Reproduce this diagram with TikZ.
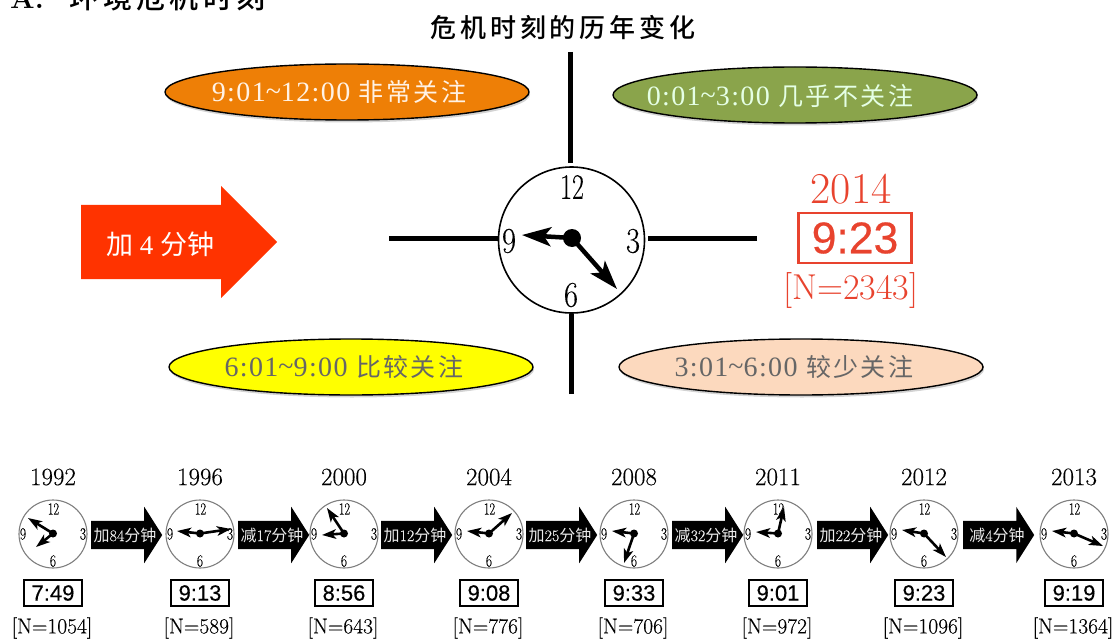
\documentclass[tikz,border=0pt]{standalone}
\usepackage{fontspec}
\usetikzlibrary{shapes.geometric,shapes.arrows,arrows.meta,shadows}
\newfontfamily\cn{Noto Sans CJK SC}
\newfontfamily\cnsp[LetterSpace=10]{Noto Sans CJK SC}
\newfontfamily\cnbold[LetterSpace=15]{Noto Sans CJK SC Medium}
\newfontfamily\lib[LetterSpace=5]{Liberation Serif}
\newfontfamily\libplain{Liberation Serif}
\newfontfamily\arial[FakeBold=0.4]{Liberation Sans}
\newfontfamily\lmheavy[FakeBold=0.25]{Latin Modern Roman}
\newcommand{\fs}[1]{\fontsize{#1}{#1}\selectfont}
\newcommand{\cond}[2]{\scalebox{#1}[1]{#2}}
\definecolor{redtxt}{HTML}{E8432E}
\definecolor{clockgray}{HTML}{7F7F7F}
\tikzset{
  oval/.style={ellipse,draw=black,line width=1.4pt,minimum width=364pt,minimum height=56pt,inner sep=0pt,
    drop shadow={shadow xshift=1pt,shadow yshift=-2.5pt,opacity=.35}},
  ovaltext/.style={font=\lib\fs{28}},
  crossline/.style={line width=5pt,black},
  bigface/.style={circle,draw=black,line width=1.6pt,fill=white,minimum size=146pt,inner sep=0pt},
  bighand/.style={line width=4.5pt,-{Stealth[length=29pt,width=19pt,inset=7pt]}},
  bignum/.style={font=\lmheavy\fs{36},inner sep=0pt},
  face/.style={circle,draw=clockgray,line width=1.1pt,fill=white,minimum size=68pt,inner sep=0pt},
  hub/.style={circle,fill=black,minimum size=#1,inner sep=0pt},
  hand/.style={line width=2.6pt,-{Stealth[length=14pt,width=9.5pt,inset=3.5pt]}},
  facenum/.style={font=\lmheavy\fs{17},inner sep=0pt},
  yearlabel/.style={font=\lmheavy\fs{25},inner sep=0pt},
  nlabel/.style={font=\lmheavy\fs{21.5},inner sep=0pt},
  timebox/.style={draw=black,line width=1.4pt,font=\arial\fs{22},minimum width=58pt,minimum height=26pt,inner sep=0pt},
  steparrow/.style={single arrow,fill=black,single arrow tip angle=115,single arrow head extend=14pt,
    single arrow head indent=0pt,minimum width=56pt,minimum height=71pt,inner sep=0pt,anchor=tail},
  steptext/.style={text=white!92!black,font=\lmheavy\fs{16},inner sep=0pt},
}
% \miniclock{name}{x}{year}{time}{N}{tip1}{tip2}
\newcommand{\miniclock}[7]{%
  \node[face] (#1) at (#2,534) {};
  \node[facenum] (#1n12) at (#2+0.5,509) {\cond{.72}{12}};
  \node[facenum] (#1n3) at (#2+30,534) {\cond{.8}{3}};
  \node[facenum] (#1n6) at (#2,561) {\cond{.8}{6}};
  \node[facenum] (#1n9) at (#2-30,534) {\cond{.8}{9}};
  \node[hub=8pt] (#1hub) at (#2,533.5) {};
  \coordinate (#1a) at (#6);
  \coordinate (#1b) at (#7);
  \draw[hand] (#1hub.center) -- (#1a);
  \draw[hand] (#1hub.center) -- (#1b);
  \node[yearlabel] (#1y) at (#2,477) {#3};
  \node[timebox] (#1t) at (#2,593) {#4};
  \node[nlabel] (#1c) at (#2-1,628) {[N=#5]};
}
% \stepto{name}{x}{text}
\newcommand{\stepto}[3]{%
  \node[steparrow] (#1) at (#2,535) {\rule{0pt}{28pt}};
  \node[steptext] (#1l) at (#2+34,535) {#3};
}
\begin{document}
\begin{tikzpicture}[x=1pt,y=-1pt]
\useasboundingbox (0,0) rectangle (1115,639);
\clip (0,0) rectangle (1115,639);
\node[anchor=base west,inner sep=0pt,font=\fs{29}] (heading) at (10,9) {\textbf{A.}\hspace{26pt}\cnbold 环境危机时刻};
\node[inner sep=0pt,font=\cnbold\fs{26}] (title) at (563,28) {危机时刻的历年变化};

\coordinate (ctop) at (570,52);
\coordinate (cbottom) at (571,394);
\coordinate (cleft) at (389,238);
\coordinate (cright) at (757,238);
\node[bigface] (bigclock) at (571.5,240) {};
\draw[crossline] (ctop) -- (570,163);
\draw[crossline] (cbottom) -- (571,314);
\draw[crossline] (cleft) -- (498,238);
\draw[crossline] (cright) -- (648,238);

\node[bignum] (n12) at (572,187) {\cond{.72}{12}};
\node[bignum] (n3) at (633,241) {\cond{.85}{3}};
\node[bignum] (n6) at (571,295) {\cond{.85}{6}};
\node[bignum] (n9) at (509,241) {\cond{.85}{9}};
\node[hub=18pt] (bighub) at (572,238) {};
\coordinate (bigtipa) at (522,235);
\coordinate (bigtipb) at (617,289);
\draw[bighand] (bighub.center) -- (bigtipa);
\draw[bighand] (bighub.center) -- (bigtipb);

\node[oval,fill={rgb,255:red,238;green,127;blue,6}] (o1) at (347,92) {};
\node[ovaltext,text=white!90!orange] (o1l) at (339,92) {9:01\raisebox{1pt}{\textasciitilde}12:00 {\cnsp\fs{25}非常关注}};
\node[oval,fill={rgb,255:red,138;green,164;blue,75}] (o2) at (795,95) {};
\node[ovaltext,text=white!90!green] (o2l) at (780,96) {0:01\raisebox{1pt}{\textasciitilde}3:00 {\cnsp\fs{25}几乎不关注}};
\node[oval,fill={rgb,255:red,255;green,255;blue,0}] (o3) at (351,367) {};
\node[ovaltext,text=black!60] (o3l) at (344,367) {6:01\raisebox{1pt}{\textasciitilde}9:00 {\cnsp\fs{25}比较关注}};
\node[oval,fill={rgb,255:red,252;green,217;blue,190}] (o4) at (801,367) {};
\node[ovaltext,text=black!60] (o4l) at (794,367) {3:01\raisebox{1pt}{\textasciitilde}6:00 {\cnsp\fs{25}较少关注}};

\node[single arrow,fill={rgb,255:red,255;green,51;blue,0},single arrow tip angle=90,single arrow head extend=19pt,
  single arrow head indent=0pt,minimum width=112pt,minimum height=196pt,inner sep=0pt,anchor=tail] (add) at (81,242) {\rule{0pt}{74pt}};
\node[text=white,inner sep=0pt,font=\libplain\fs{27}] (addl) at (160,244) {{\cn 加} 4 {\cn 分钟}};

\node[text=redtxt,inner sep=0pt,font=\fs{44}] (y2014) at (851,189) {2014};
\node[draw=redtxt,line width=2.6pt,text=redtxt,font=\arial\fs{44.5},minimum width=113pt,minimum height=50pt,inner sep=0pt] (t2014) at (855,238) {9:23};
\node[text=redtxt,inner sep=0pt,font=\fs{36}] (n2014) at (851,290) {[N=2343]};

\miniclock{a}{53}{1992}{7:49}{1054}{28,518}{36,547}
\miniclock{b}{200}{1996}{9:13}{589}{177,531}{231,529}
\miniclock{c}{344}{2000}{8:56}{643}{327,508}{322,535}
\miniclock{d}{489}{2004}{9:08}{776}{467,531}{512,513}
\miniclock{e}{634}{2008}{9:33}{706}{612,531}{624,563}
\miniclock{f}{778}{2011}{9:01}{972}{756,532}{784,507}
\miniclock{g}{924}{2012}{9:23}{1096}{902,530}{946,557}
\miniclock{h}{1074}{2013}{9:19}{1364}{1052,531}{1103,546}

\stepto{s1}{91}{{\cn 加}84{\cn 分钟}}
\stepto{s2}{238}{{\cn 减}17{\cn 分钟}}
\stepto{s3}{381}{{\cn 加}12{\cn 分钟}}
\stepto{s4}{526}{{\cn 加}25{\cn 分钟}}
\stepto{s5}{672}{{\cn 减}32{\cn 分钟}}
\stepto{s6}{817}{{\cn 加}22{\cn 分钟}}
\stepto{s7}{963}{{\cn 减}4{\cn 分钟}}
\end{tikzpicture}
\end{document}
